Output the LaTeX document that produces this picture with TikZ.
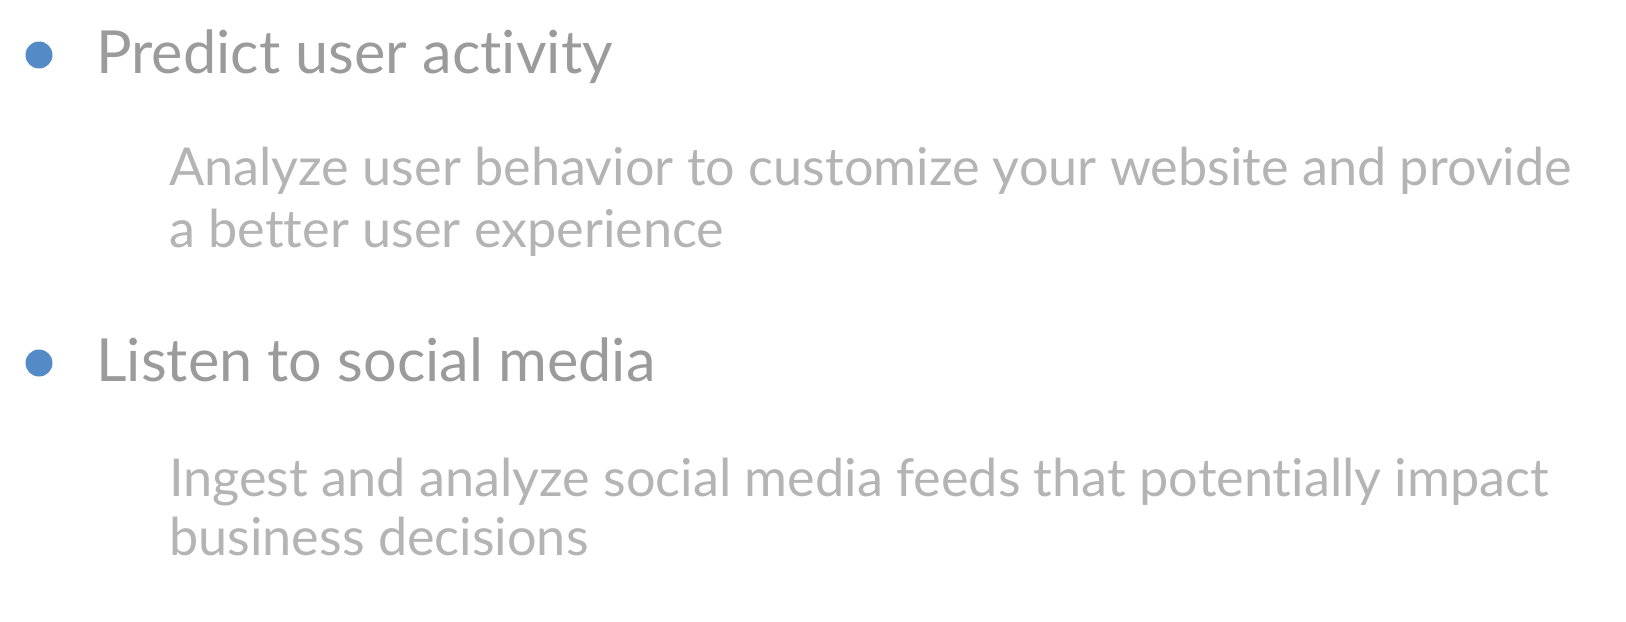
\documentclass[tikz,border=0pt]{standalone}
\usepackage{fontspec}
\setmainfont{Lato}[RawFeature={-liga}]
\usetikzlibrary{positioning}
\definecolor{bulletblue}{RGB}{84,139,199}
\definecolor{headgray}{RGB}{155,155,155}
\definecolor{subgray}{RGB}{180,180,180}

\begin{document}
\begin{tikzpicture}[x=0.02cm,y=-0.02cm,
    dot/.style={circle, fill=bulletblue, minimum size=0.54cm, inner sep=0pt},
    headline/.style={anchor=base west, inner sep=0pt, text=headgray, font=\fontsize{33.8}{40}\selectfont},
    subline/.style={anchor=base west, inner sep=0pt, text=subgray, font=\fontsize{29.7}{36}\selectfont}]
    % Frame of the slide
    \useasboundingbox[fill=white] (0,0) rectangle (1626,622);

    % First point
    \node[dot] (dotA) at (39,55) {};
    \node[headline] (predict) at (96,73) {Predict user activity};
    \node[subline] (predictsub) at (169,185) {Analyze user behavior to customize your website and provide};
    \node[subline] (predictsubb) at (169,247) {a better user experience};

    % Second point
    \node[dot] (dotB) at (39,363) {};
    \node[headline] (listen) at (96,381) {Listen to social media};
    \node[subline] (listensub) at (169,496) {Ingest and analyze social media feeds that potentially impact};
    \node[subline] (listensubb) at (169,555) {business decisions};
\end{tikzpicture}
\end{document}
